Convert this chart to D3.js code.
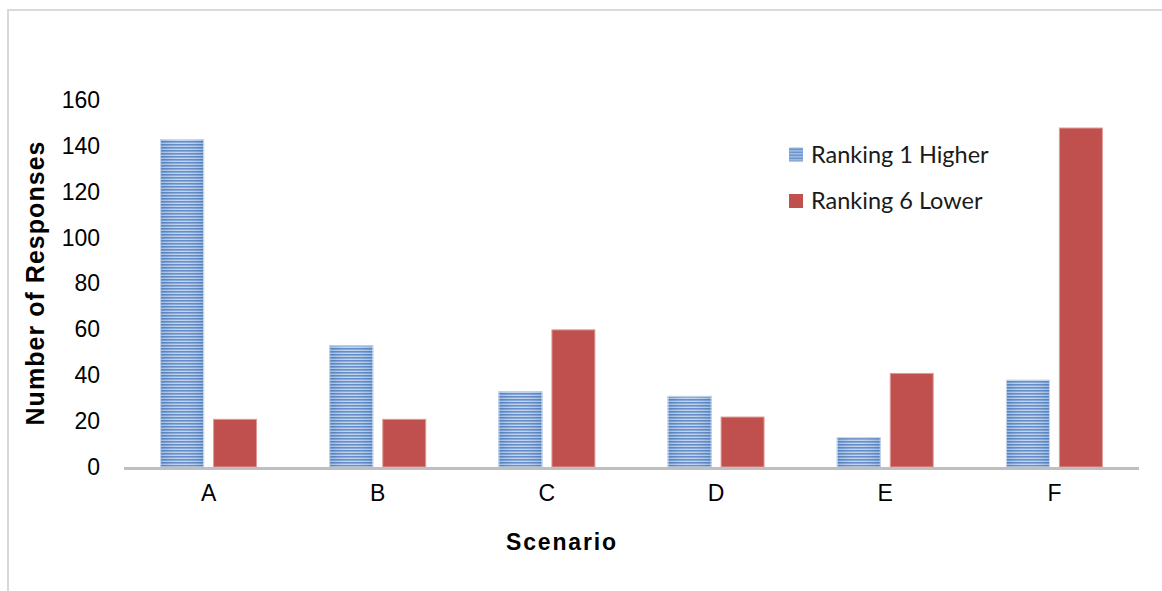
<!DOCTYPE html>
<html>
<head>
<meta charset="utf-8">
<script src="https://cdn.jsdelivr.net/npm/d3@7"></script>
<style>
  html, body { margin: 0; padding: 0; background: #ffffff; }
  svg { display: block; }
</style>
</head>
<body>
<svg id="chart" width="1162" height="591"></svg>
<script>
// Scenario ranking responses
const categories = ["A", "B", "C", "D", "E", "F"];
const seriesNames = ["Ranking 1 Higher", "Ranking 6 Lower"];
const higherValues = [143, 53, 33, 31, 13, 38];
const lowerValues = [21, 21, 60, 22, 41, 148];
const yTickValues = [0, 20, 40, 60, 80, 100, 120, 140, 160];

const width = 1162, height = 591;
const margin = { left: 124, right: 23, top: 100, bottom: 124 };
const plotBottom = height - margin.bottom;

const svg = d3.select("#chart");

// Outer frame (left and top edges only)
svg.append("line").attr("x1", 8).attr("x2", 8).attr("y1", 10).attr("y2", height)
  .attr("stroke", "#d9d9d9").attr("stroke-width", 2);
svg.append("line").attr("x1", 7).attr("x2", width).attr("y1", 10).attr("y2", 10)
  .attr("stroke", "#d9d9d9").attr("stroke-width", 2);

// Striped blue fill
const defs = svg.append("defs");
const pat = defs.append("pattern").attr("id", "stripes")
  .attr("patternUnits", "userSpaceOnUse").attr("width", 8).attr("height", 3);
pat.append("rect").attr("width", 8).attr("height", 3).attr("fill", "#bfd2ed");
pat.append("rect").attr("width", 8).attr("height", 1).attr("y", 0).attr("fill", "#5584c4");
pat.append("rect").attr("width", 8).attr("height", 1).attr("y", 1).attr("fill", "#80a4d6");

const shade = defs.append("linearGradient").attr("id", "shade")
  .attr("x1", 0).attr("x2", 1).attr("y1", 0).attr("y2", 0);
shade.append("stop").attr("offset", "0%").attr("stop-color", "#3f6fb0").attr("stop-opacity", 0.25);
shade.append("stop").attr("offset", "50%").attr("stop-color", "#ffffff").attr("stop-opacity", 0.08);
shade.append("stop").attr("offset", "100%").attr("stop-color", "#3f6fb0").attr("stop-opacity", 0.25);

const x0 = d3.scaleBand().domain(categories)
  .range([margin.left, width - margin.right])
  .paddingInner(0.427).paddingOuter(0.2135);
const x1 = d3.scaleBand().domain(seriesNames)
  .range([0, x0.bandwidth()]).paddingInner(0.17);
const y = d3.scaleLinear().domain([0, 160]).range([plotBottom, margin.top]);

const rows = categories.map((c, i) => ({ cat: c, values: [higherValues[i], lowerValues[i]] }));

const groups = svg.append("g").selectAll("g").data(rows).join("g")
  .attr("transform", d => `translate(${x0(d.cat)},0)`);

// Higher-ranking bars
groups.append("rect")
  .attr("x", x1(seriesNames[0])).attr("width", x1.bandwidth())
  .attr("y", d => y(d.values[0])).attr("height", d => y(0) - y(d.values[0]))
  .attr("fill", "url(#stripes)");
groups.append("rect")
  .attr("x", x1(seriesNames[0]) + 0.5).attr("width", x1.bandwidth() - 1)
  .attr("y", d => y(d.values[0]) + 0.5).attr("height", d => y(0) - y(d.values[0]) - 0.5)
  .attr("fill", "url(#shade)").attr("stroke", "#c9d9ee").attr("stroke-width", 1);

// Lower-ranking bars
groups.append("rect")
  .attr("x", x1(seriesNames[1]) + 0.5).attr("width", x1.bandwidth() - 1)
  .attr("y", d => y(d.values[1]) + 0.5).attr("height", d => y(0) - y(d.values[1]) - 0.5)
  .attr("fill", "#c0504d").attr("stroke", "#dd9a98").attr("stroke-width", 1);

// Y axis (labels only)
const yAxis = svg.append("g").attr("transform", `translate(${margin.left},0)`)
  .call(d3.axisLeft(y).tickValues(yTickValues).tickSize(0).tickPadding(24));
yAxis.select(".domain").remove();
yAxis.selectAll("text").attr("font-family", "'Liberation Sans', Arial, sans-serif")
  .attr("font-size", 23).attr("fill", "#000");

// X axis
const xAxis = svg.append("g").attr("transform", `translate(0,${plotBottom})`)
  .call(d3.axisBottom(x0).tickSize(0).tickPadding(18));
xAxis.select(".domain").attr("stroke", "#bfbfbf").attr("stroke-width", 3)
  .attr("d", `M${margin.left},1.5H${width - margin.right}`);
xAxis.selectAll("text").attr("font-family", "'Liberation Sans', Arial, sans-serif")
  .attr("font-size", 23).attr("fill", "#000");

// Axis titles
svg.append("text")
  .attr("transform", `translate(${44},${(plotBottom + margin.top) / 2}) rotate(-90)`)
  .attr("text-anchor", "middle")
  .attr("font-family", "'Liberation Sans', Arial, sans-serif")
  .attr("font-weight", "bold").attr("font-size", 25)
  .attr("textLength", 284).attr("lengthAdjust", "spacing")
  .text("Number of Responses");

svg.append("text")
  .attr("x", 561).attr("y", 550)
  .attr("text-anchor", "middle")
  .attr("font-family", "'Liberation Sans', Arial, sans-serif")
  .attr("font-weight", "bold").attr("font-size", 23)
  .attr("textLength", 110).attr("lengthAdjust", "spacing")
  .text("Scenario");

// Legend
const legend = svg.append("g").attr("transform", "translate(789,0)");
const legendRows = [
  { name: seriesNames[0], fill: "url(#stripes)", cy: 154.5 },
  { name: seriesNames[1], fill: "#c0504d", cy: 201 }
];
const li = legend.selectAll("g").data(legendRows).join("g")
  .attr("transform", d => `translate(0,${d.cy})`);
li.append("rect").attr("x", 0).attr("y", -7).attr("width", 14).attr("height", 14)
  .attr("fill", d => d.fill);
li.append("text").attr("x", 22).attr("y", 8)
  .attr("font-family", "Lato, 'Open Sans', sans-serif").attr("font-size", 23.5)
  .attr("fill", "#1a1a1a")
  .text(d => d.name);
</script>
</body>
</html>
